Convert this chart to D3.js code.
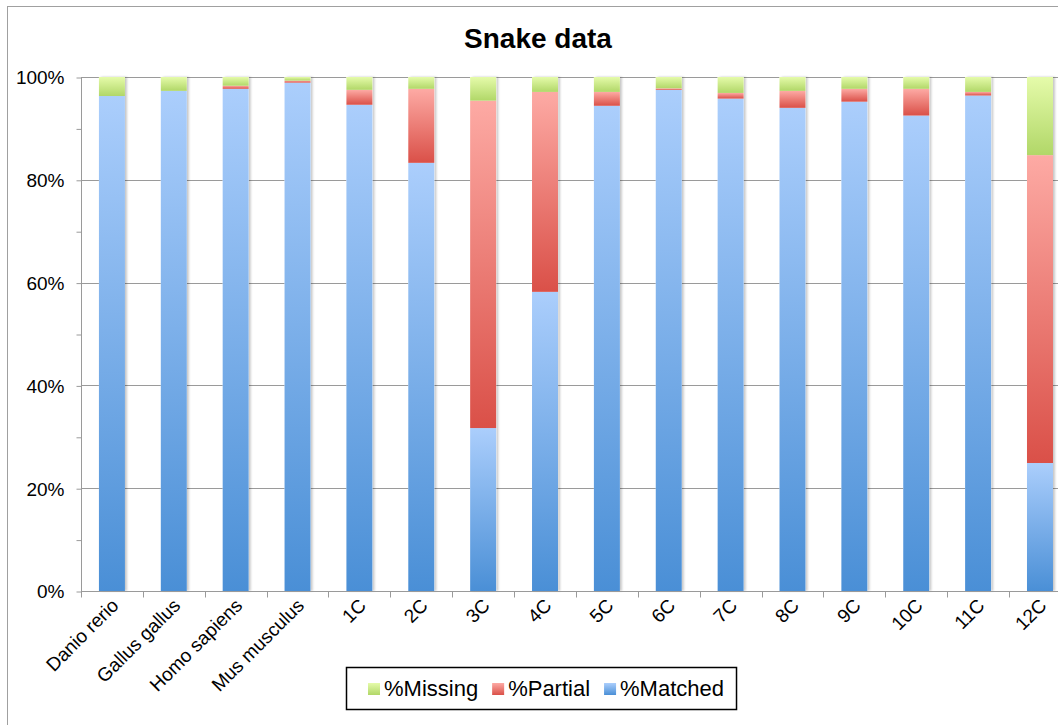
<!DOCTYPE html>
<html>
<head>
<meta charset="utf-8">
<script src="https://cdn.jsdelivr.net/npm/d3@7"></script>
<style>
  html, body { margin: 0; padding: 0; background: #fff; overflow: hidden; }
  svg { display: block; font-family: "Liberation Sans", Arial, sans-serif; }
</style>
</head>
<body>
<div id="chart"></div>
<script>
// Snake data — stacked 100% columns.
var categories = ['Danio rerio', 'Gallus gallus', 'Homo sapiens', 'Mus musculus',
  '1C', '2C', '3C', '4C', '5C', '6C', '7C', '8C', '9C', '10C', '11C', '12C'];
var matched = [96.3, 97.3, 97.7, 98.9, 94.6, 83.3, 31.7, 58.2, 94.4, 97.5, 95.8, 94.0, 95.2, 92.5, 96.4, 24.9];
var partial = [0.0, 0.0, 0.6, 0.4, 2.9, 14.4, 63.7, 38.9, 2.7, 0.3, 1.1, 3.3, 2.5, 5.2, 0.7, 59.9];
var missing = [3.7, 2.7, 1.7, 0.7, 2.5, 2.3, 4.6, 2.9, 2.9, 2.2, 3.1, 2.7, 2.3, 2.3, 2.9, 15.2];
var yTicks = [0, 20, 40, 60, 80, 100];
var seriesKeys = ['matched', 'partial', 'missing'];
var seriesNames = { matched: '%Matched', partial: '%Partial', missing: '%Missing' };
var legendOrder = ['missing', 'partial', 'matched'];

(function () {
  'use strict';

  var W = 1058, H = 725;
  var margin = { left: 81, top: 77, bottom: 591 };
  var bandW = 61.87;
  var plotRight = margin.left + bandW * categories.length;

  // top/bottom stops of each series' vertical gradient
  var grad = {
    matched: ['#abcefc', '#4a8fd6'],
    partial: ['#fdaaa4', '#da5048'],
    missing: ['#e5fbaa', '#b1d768']
  };

  var rows = categories.map(function (c, i) {
    return { name: c, matched: matched[i], partial: partial[i], missing: missing[i] };
  });

  var svg = d3.select('#chart').append('svg').attr('width', W).attr('height', H);
  var defs = svg.append('defs');

  seriesKeys.forEach(function (k) {
    var g = defs.append('linearGradient').attr('id', 'g-' + k)
      .attr('x1', 0).attr('y1', 0).attr('x2', 0).attr('y2', 1);
    g.append('stop').attr('offset', '0%').attr('stop-color', grad[k][0]);
    g.append('stop').attr('offset', '100%').attr('stop-color', grad[k][1]);
  });

  var shadow = defs.append('filter').attr('id', 'shadow')
    .attr('x', '-30%').attr('y', '-5%').attr('width', '160%').attr('height', '110%');
  shadow.append('feDropShadow').attr('dx', 2).attr('dy', 0).attr('stdDeviation', 1.3)
    .attr('flood-color', '#000').attr('flood-opacity', 0.22);

  // outer chart frame (runs off the right/bottom of the picture)
  svg.append('rect').attr('x', 7.5).attr('y', 6.5).attr('width', 1200).attr('height', 900)
    .attr('fill', 'none').attr('stroke', '#a0a0a0').attr('stroke-width', 1);

  var x = d3.scaleBand().domain(categories).range([margin.left, plotRight]).paddingInner(0).paddingOuter(0);
  var y = d3.scaleLinear().domain([0, 100]).range([margin.bottom, margin.top]);

  // gridlines
  svg.append('g').selectAll('line').data(yTicks.filter(function (t) { return t > 0; }))
    .enter().append('line')
    .attr('x1', margin.left).attr('x2', W + 20)
    .attr('y1', function (d) { return Math.round(y(d)) + 0.5; })
    .attr('y2', function (d) { return Math.round(y(d)) + 0.5; })
    .attr('stroke', '#9a9a9a').attr('stroke-width', 1);

  // y axis
  var yAxis = d3.axisLeft(y).tickValues(d3.range(0, 101, 10)).tickSize(5)
    .tickFormat(function (d) { return yTicks.indexOf(d) >= 0 ? d + '%' : ''; });
  var gy = svg.append('g').attr('transform', 'translate(' + (margin.left + 0.5) + ',0.5)').call(yAxis);
  gy.select('.domain').attr('stroke', '#9a9a9a').attr('d', 'M0,' + Math.round(y(100)) + 'V' + Math.round(y(0)));
  gy.selectAll('.tick line').attr('stroke', '#9a9a9a');
  gy.selectAll('.tick text').attr('x', -17).attr('dy', '0.34em')
    .style('font-size', '19px').attr('fill', '#000');

  // stacked bars
  var stack = d3.stack().keys(seriesKeys)(rows);
  var barW = 26;
  var bars = svg.append('g');

  bars.selectAll('.bar-shadow').data(rows).enter().append('rect')
    .attr('class', 'bar-shadow')
    .attr('x', function (d) { return x(d.name) + (bandW - barW) / 2; })
    .attr('y', y(100)).attr('width', barW).attr('height', y(0) - y(100))
    .attr('fill', '#fff').attr('filter', 'url(#shadow)');

  stack.forEach(function (layer) {
    bars.append('g').selectAll('rect').data(layer).enter().append('rect')
      .attr('x', function (d) { return x(d.data.name) + (bandW - barW) / 2; })
      .attr('y', function (d) { return y(d[1]); })
      .attr('width', barW)
      .attr('height', function (d) { return Math.max(0, y(d[0]) - y(d[1])); })
      .attr('fill', 'url(#g-' + layer.key + ')');
  });

  // x axis
  var xAxisLine = svg.append('g').attr('transform', 'translate(0,' + (Math.round(y(0)) + 0.5) + ')');
  xAxisLine.append('line').attr('x1', margin.left).attr('x2', W + 20)
    .attr('stroke', '#9a9a9a');
  xAxisLine.selectAll('.xt').data(d3.range(categories.length + 1)).enter().append('line')
    .attr('x1', function (i) { return Math.round(margin.left + i * bandW) + 0.5; })
    .attr('x2', function (i) { return Math.round(margin.left + i * bandW) + 0.5; })
    .attr('y1', 0).attr('y2', 6).attr('stroke', '#9a9a9a');

  svg.append('g').selectAll('text').data(categories).enter().append('text')
    .attr('transform', function (d) {
      return 'translate(' + (x(d) + bandW / 2 + 3) + ',' + (margin.bottom + 11) + ') rotate(-45)';
    })
    .attr('text-anchor', 'end').attr('dy', '0.35em')
    .style('font-size', '19px').attr('fill', '#000')
    .text(function (d) { return d; });

  // title
  svg.append('text').attr('x', 538).attr('y', 48).attr('text-anchor', 'middle')
    .style('font-size', '28px').style('font-weight', 'bold').text('Snake data');

  // legend
  var legend = svg.append('g');
  var lx = 346, ly = 667, lh = 42;
  var box = legend.append('rect').attr('x', lx + 0.5).attr('y', ly + 0.5).attr('height', lh)
    .attr('fill', '#fff').attr('stroke', '#000').attr('stroke-width', 1.5);
  var cx = lx + 22;
  legendOrder.forEach(function (k) {
    legend.append('rect').attr('x', cx).attr('y', ly + 16).attr('width', 12).attr('height', 12)
      .attr('fill', 'url(#g-' + k + ')');
    var t = legend.append('text').attr('x', cx + 16).attr('y', ly + 29)
      .style('font-size', '22px').text(seriesNames[k]);
    cx += 16 + t.node().getComputedTextLength() + 14;
  });
  box.attr('width', cx - lx - 2);
})();
</script>
</body>
</html>
